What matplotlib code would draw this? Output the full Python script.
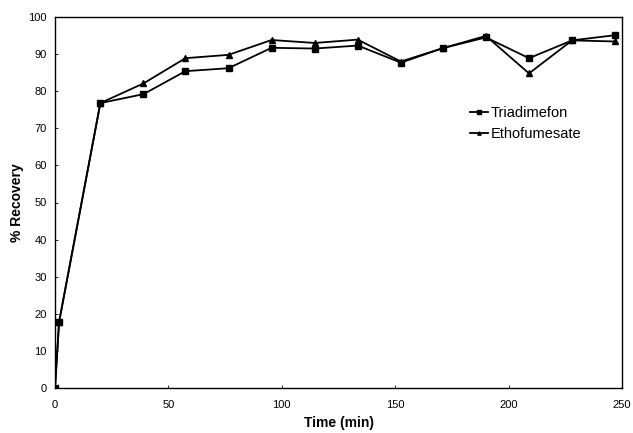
import matplotlib
matplotlib.use("Agg")
import matplotlib.pyplot as plt

time_min = [0, 1.8, 20, 39, 57.5, 76.5, 95.5, 114.5, 133.5, 152.5, 171, 190, 209, 228, 247]
triadimefon = [0, 17.8, 76.8, 79.2, 85.4, 86.2, 91.7, 91.5, 92.3, 87.7, 91.6, 94.5, 88.9, 93.7, 95.1]
ethofumesate = [0, 17.8, 76.8, 82.1, 88.9, 89.8, 93.8, 93.0, 93.9, 88.0, 91.6, 94.9, 84.8, 93.7, 93.4]

x_ticks = [0, 50, 100, 150, 200, 250]
y_ticks = [0, 10, 20, 30, 40, 50, 60, 70, 80, 90, 100]

plt.rcParams['font.family'] = ['Liberation Sans', 'DejaVu Sans']

fig = plt.figure(figsize=(6.33, 4.33), dpi=100)
ax = fig.add_axes([55/633, 1-388/433, (622-55)/633, (388-17)/433])

ax.plot(time_min, triadimefon, color='black', lw=1.3, marker='s', ms=4, label='Triadimefon')
ax.plot(time_min, ethofumesate, color='black', lw=1.3, marker='^', ms=4, label='Ethofumesate')

ax.set_xlim(0, 250)
ax.set_ylim(0, 100)
ax.set_xticks(x_ticks)
ax.set_yticks(y_ticks)
ax.tick_params(direction='in', length=2, labelsize=8, width=0.6)
ax.tick_params(axis='x', pad=9)
ax.tick_params(axis='y', pad=6)
for s in ax.spines.values():
    s.set_linewidth(1.0)

ax.set_xlabel('Time (min)', fontsize=10, fontweight='bold')
ax.set_ylabel('% Recovery', fontsize=10, fontweight='bold')
ax.xaxis.set_label_coords((339-55)/567, (388-416)/371)
ax.yaxis.set_label_coords((24-55)/567, 0.5)

ax.legend(loc='upper left', bbox_to_anchor=((457-55)/(622-55), 1-(93-17)/(388-17)),
          frameon=False, fontsize=10.5, handlelength=1.2, handletextpad=0.2,
          labelspacing=0.5, markerscale=0.6)

fig.savefig('out.png', dpi=100)
